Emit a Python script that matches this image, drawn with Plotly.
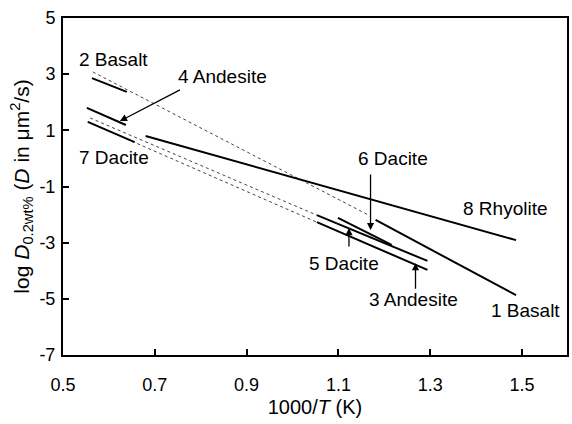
import plotly.graph_objects as go

# Solid segments: measured Arrhenius lines (1000/T, log D)
solid_names = ["1 Basalt", "2 Basalt", "3 Andesite", "4 Andesite",
               "5 Dacite", "6 Dacite", "7 Dacite", "8 Rhyolite"]
solid_x0 = [1.181, 0.563, 1.053, 0.552, 1.053, 1.099, 0.554, 0.680]
solid_x1 = [1.487, 0.639, 1.294, 0.637, 1.294, 1.216, 0.656, 1.487]
solid_y0 = [-2.19, 2.86, -2.27, 1.80, -2.02, -2.12, 1.30, 0.80]
solid_y1 = [-4.87, 2.37, -3.97, 1.19, -3.65, -3.08, 0.58, -2.91]

# Dotted extrapolation lines
dot_x0 = [0.565, 0.559, 0.554]
dot_x1 = [1.166, 1.053, 1.053]
dot_y0 = [3.08, 1.44, 1.30]
dot_y1 = [-2.02, -2.02, -2.27]

# Labels without arrows
plain_text = ["2 Basalt", "7 Dacite", "8 Rhyolite", "1 Basalt"]
plain_x = [0.611, 0.611, 1.465, 1.507]
plain_y = [3.54, 0.05, -1.80, -5.40]

# Labels with arrows (label position, arrow tail, arrow head)
arrow_text = ["4 Andesite", "6 Dacite", "5 Dacite", "3 Andesite"]
arrow_lx = [0.847, 1.220, 1.112, 1.264]
arrow_ly = [2.90, -0.02, -3.73, -5.04]
arrow_tx = [0.758, 1.170, 1.123, 1.268]
arrow_ty = [2.47, -0.52, -3.19, -4.69]
arrow_hx = [0.624, 1.170, 1.123, 1.268]
arrow_hy = [1.33, -2.55, -2.48, -3.73]

x_ticks = [0.5, 0.7, 0.9, 1.1, 1.3, 1.5]
y_ticks = [5, 3, 1, -1, -3, -5, -7]

FONT = "Liberation Sans, Arial, sans-serif"

fig = go.Figure()
for i in range(len(dot_x0)):
    fig.add_trace(go.Scatter(x=[dot_x0[i], dot_x1[i]], y=[dot_y0[i], dot_y1[i]],
                             mode="lines", line=dict(color="#444444", width=1, dash="dot"),
                             showlegend=False, hoverinfo="skip"))
for i, nm in enumerate(solid_names):
    fig.add_trace(go.Scatter(x=[solid_x0[i], solid_x1[i]], y=[solid_y0[i], solid_y1[i]],
                             mode="lines", line=dict(color="black", width=2),
                             name=nm, showlegend=False))

for t, x, y in zip(plain_text, plain_x, plain_y):
    fig.add_annotation(x=x, y=y, text=t, showarrow=False,
                       font=dict(family=FONT, size=19, color="black"))
for i, t in enumerate(arrow_text):
    fig.add_annotation(x=arrow_lx[i], y=arrow_ly[i], text=t, showarrow=False,
                       font=dict(family=FONT, size=19, color="black"))
    fig.add_annotation(x=arrow_hx[i], y=arrow_hy[i], ax=arrow_tx[i], ay=arrow_ty[i],
                       axref="x", ayref="y", xref="x", yref="y", text="",
                       showarrow=True, arrowhead=2, arrowsize=1.1, arrowwidth=1.3,
                       arrowcolor="black")

axis_common = dict(showline=True, linecolor="black", linewidth=2, mirror=True,
                   ticks="inside", ticklen=6, tickwidth=1.5, tickcolor="black",
                   showgrid=False, zeroline=False,
                   tickfont=dict(family=FONT, size=18, color="black"))
fig.update_xaxes(range=[0.5, 1.598], tickvals=x_ticks,
                 ticktext=[f"{v:.1f}" for v in x_ticks], ticklabelstandoff=12,
                 title=dict(text="1000/<i>T</i> (K)", font=dict(family=FONT, size=20, color="black"),
                            standoff=6),
                 **axis_common)
fig.update_yaxes(range=[-7, 5], tickvals=y_ticks,
                 ticktext=[str(v) for v in y_ticks], ticklabelstandoff=2,
                 title=dict(text="log <i>D</i><sub>0.2wt%</sub> (<i>D</i> in μm<sup>2</sup>/s)",
                            font=dict(family=FONT, size=21, color="black"), standoff=4),
                 **axis_common)
fig.update_layout(width=572, height=424, margin=dict(l=63, r=3, t=18, b=69),
                  plot_bgcolor="white", paper_bgcolor="white",
                  font=dict(family=FONT, color="black"))
fig.write_html("out.html")
